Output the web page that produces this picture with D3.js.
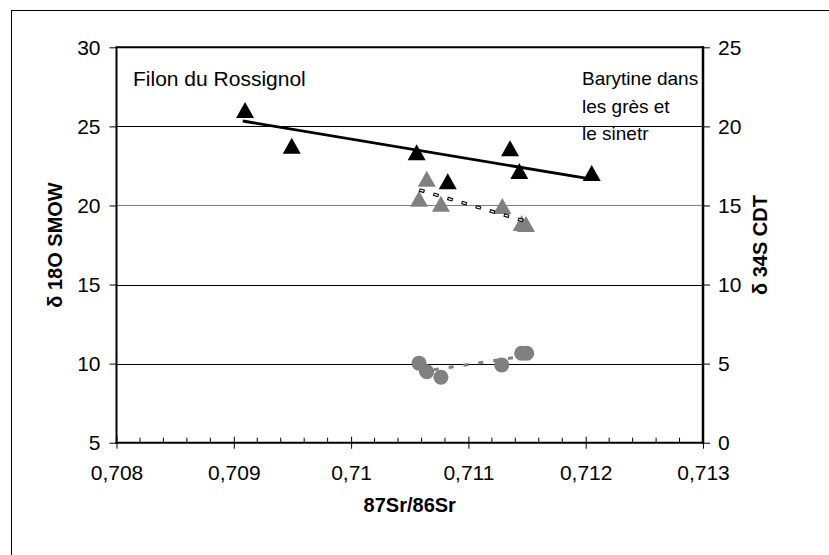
<!DOCTYPE html>
<html>
<head>
<meta charset="utf-8">
<script src="https://cdn.jsdelivr.net/npm/d3@7"></script>
<style>
  html, body { margin: 0; padding: 0; background: #fff; }
  svg { display: block; }
  text { font-family: "Liberation Sans", Arial, sans-serif; fill: #000; }
</style>
</head>
<body>
<div id="chart"></div>
<script>
// ---- data ----
const xTickValues = [0.708, 0.709, 0.710, 0.711, 0.712, 0.713];
const xTickLabels = ["0,708", "0,709", "0,71", "0,711", "0,712", "0,713"];
const yLeftTicks = [5, 10, 15, 20, 25, 30];
const yRightTicks = [0, 5, 10, 15, 20, 25];

// Filon du Rossignol (black triangles)
const filonX = [0.709096, 0.709494, 0.710559, 0.710824, 0.711355, 0.711434, 0.712051];
const filonY = [26.04, 23.78, 23.36, 21.53, 23.62, 22.18, 22.05];
// Barytine dans les grès (grey triangles)
const barTriX = [0.710579, 0.710645, 0.710766, 0.711289, 0.711454, 0.711491];
const barTriY = [20.43, 21.69, 20.11, 19.97, 18.89, 18.83];
// Barytine dans les grès (grey circles)
const barCirX = [0.710579, 0.710645, 0.710766, 0.711284, 0.711454, 0.711497];
const barCirY = [10.03, 9.49, 9.14, 9.92, 10.66, 10.66];

// trendline end points
const filonTrendX = [0.709076, 0.712051];
const filonTrendY = [25.34, 21.66];
const triTrendX = [0.710581, 0.711468];
const triTrendY = [20.98, 19.04];
const cirTrendX = [0.710579, 0.711497];
const cirTrendY = [9.47, 10.50];

const labelLeft = "Filon du Rossignol";
const labelRight = ["Barytine dans", "les grès et", "le sinetr"];

// ---- drawing ----
const W = 829, H = 555;
const L = 116.5, R = 703, T = 47.3, B = 442.7;
const svg = d3.select("#chart").append("svg").attr("width", W).attr("height", H);

// outer frame
svg.append("rect").attr("x", 11.5).attr("y", 10.5).attr("width", 840).attr("height", 570)
  .attr("fill", "none").attr("stroke", "#000").attr("stroke-width", 1);

const x = d3.scaleLinear().domain([0.708, 0.713]).range([L, R]);
const yL = d3.scaleLinear().domain([5, 30]).range([B, T]);
const yR = d3.scaleLinear().domain([0, 25]).range([B, T]);

// gridlines
const gridColors = {10: "#000", 15: "#000", 20: "#808080", 25: "#000"};
svg.append("g").selectAll("line").data([10, 15, 20, 25]).join("line")
  .attr("x1", L).attr("x2", R)
  .attr("y1", d => Math.round(yL(d)) + 0.5).attr("y2", d => Math.round(yL(d)) + 0.5)
  .attr("stroke", d => gridColors[d]).attr("stroke-width", 1);

// plot frame (top border)
svg.append("line").attr("x1", L).attr("x2", R + 1).attr("y1", T).attr("y2", T)
  .attr("stroke", "#000").attr("stroke-width", 2);

// axes
const fs = 21;
const xAxis = d3.axisBottom(x).tickValues(xTickValues)
  .tickFormat((d, i) => xTickLabels[i]).tickSize(6).tickPadding(16);
const gx = svg.append("g").attr("transform", `translate(0,${B})`).call(xAxis);
gx.select(".domain").remove();
gx.selectAll(".tick line").attr("y1", -6).attr("stroke-width", 1);
gx.selectAll("text").style("font-size", fs + "px").attr("font-family", "Liberation Sans, Arial, sans-serif");

// minor ticks on x (inside)
const minor = d3.range(0, 26).map(i => 0.708 + i * 0.0002).filter((d, i) => i % 5 !== 0);
svg.append("g").selectAll("line").data(minor).join("line")
  .attr("x1", d => x(d)).attr("x2", d => x(d)).attr("y1", B).attr("y2", B - 5)
  .attr("stroke", "#000").attr("stroke-width", 1);

svg.append("line").attr("x1", L - 1).attr("x2", R + 1).attr("y1", B).attr("y2", B)
  .attr("stroke", "#000").attr("stroke-width", 2);

const gyL = svg.append("g").attr("transform", `translate(${L},0)`)
  .call(d3.axisLeft(yL).tickValues(yLeftTicks).tickSize(7).tickPadding(9));
gyL.select(".domain").remove();
gyL.selectAll("text").style("font-size", fs + "px").attr("font-family", "Liberation Sans, Arial, sans-serif");
svg.append("line").attr("x1", L).attr("x2", L).attr("y1", T - 1).attr("y2", B + 1)
  .attr("stroke", "#000").attr("stroke-width", 2);

const gyR = svg.append("g").attr("transform", `translate(${R},0)`)
  .call(d3.axisRight(yR).tickValues(yRightTicks).tickSize(7).tickPadding(8));
gyR.select(".domain").remove();
gyR.selectAll("text").style("font-size", fs + "px").attr("font-family", "Liberation Sans, Arial, sans-serif");
svg.append("line").attr("x1", R).attr("x2", R).attr("y1", T - 1).attr("y2", B + 1)
  .attr("stroke", "#000").attr("stroke-width", 2.5);

// axis titles
svg.append("text").attr("x", (L + R) / 2).attr("y", 512).attr("text-anchor", "middle")
  .style("font-size", "20px").style("font-weight", "bold").text("87Sr/86Sr");
svg.append("text").attr("transform", `translate(62,${(T + B) / 2}) rotate(-90)`)
  .attr("text-anchor", "middle").style("font-size", "20px").style("font-weight", "bold")
  .text("δ 18O SMOW");
svg.append("text").attr("transform", `translate(767,${(T + B) / 2}) rotate(-90)`)
  .attr("text-anchor", "middle").style("font-size", "20px").style("font-weight", "bold")
  .text("δ 34S CDT");

// annotations
svg.append("text").attr("x", 133).attr("y", 86).style("font-size", fs + "px").text(labelLeft);
svg.append("g").selectAll("text").data(labelRight).join("text")
  .attr("x", 582).attr("y", (d, i) => 85 + i * 27.5).style("font-size", "19px").text(d => d);

// trendlines
const line = d3.line().x(d => x(d[0])).y(d => yL(d[1]));
svg.append("path").datum(d3.zip(cirTrendX, cirTrendY)).attr("d", line)
  .attr("fill", "none").attr("stroke", "#808080").attr("stroke-width", 3).attr("stroke-dasharray", "5,10");

// triangle helper
const triPath = (cx, cy) => {
  const w = 18, h = 16;
  return `M${cx},${cy - h / 2}L${cx + w / 2},${cy + h / 2}L${cx - w / 2},${cy + h / 2}Z`;
};

// grey circles
svg.append("g").selectAll("circle").data(d3.zip(barCirX, barCirY)).join("circle")
  .attr("cx", d => x(d[0])).attr("cy", d => yL(d[1])).attr("r", 7.5)
  .attr("fill", "#808080");

// grey triangles
svg.append("g").selectAll("path").data(d3.zip(barTriX, barTriY)).join("path")
  .attr("d", d => triPath(x(d[0]), yL(d[1]))).attr("fill", "#808080");

// dashed trendline for grey triangles (hollow dashes)
svg.append("path").datum(d3.zip(triTrendX, triTrendY)).attr("d", line)
  .attr("fill", "none").attr("stroke", "#000").attr("stroke-width", 3.5).attr("stroke-dasharray", "5.5,9.2");
svg.append("path").datum(d3.zip(triTrendX, triTrendY)).attr("d", line)
  .attr("fill", "none").attr("stroke", "#fff").attr("stroke-width", 1.3)
  .attr("stroke-dasharray", "3.5,11.2").attr("stroke-dashoffset", -1);

// black triangles
svg.append("g").selectAll("path").data(d3.zip(filonX, filonY)).join("path")
  .attr("d", d => triPath(x(d[0]), yL(d[1]))).attr("fill", "#000");

svg.append("path").datum(d3.zip(filonTrendX, filonTrendY)).attr("d", line)
  .attr("fill", "none").attr("stroke", "#000").attr("stroke-width", 2.8);
</script>
</body>
</html>
